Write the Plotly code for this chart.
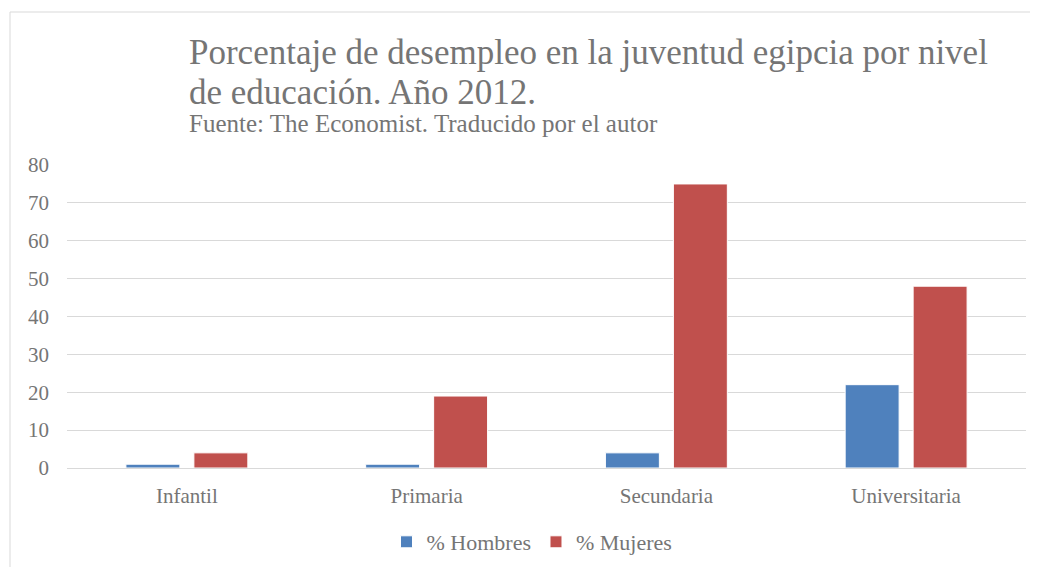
import plotly.graph_objects as go

niveles = ["Infantil", "Primaria", "Secundaria", "Universitaria"]
hombres = [1, 1, 4, 22]
mujeres = [4, 19, 75, 48]
y_ticks = [0, 10, 20, 30, 40, 50, 60, 70, 80]

FONT = "Liberation Serif"
GRAY = "#757575"

# page body adds an 8px offset, so the figure is laid out in its own coordinates
L, T, B, R = 59, 157, 99, 12
W, H = 1030, 559
PW, PH = W - L - R, H - T - B


def px(x):
    return (x - L) / PW


def py(y):
    return (T + PH - y) / PH


fig = go.Figure()
fig.add_trace(go.Bar(x=niveles, y=hombres, name="% Hombres",
                     marker=dict(color="#4f81bd", line=dict(color="#ffffff", width=1))))
fig.add_trace(go.Bar(x=niveles, y=mujeres, name="% Mujeres",
                     marker=dict(color="#c0504d", line=dict(color="#ffffff", width=1))))

fig.add_annotation(text="Porcentaje de desempleo en la juventud egipcia por nivel",
                   xref="paper", yref="paper", x=px(179), y=py(44),
                   showarrow=False, xanchor="left", yanchor="middle",
                   font=dict(family=FONT, size=35, color=GRAY))
fig.add_annotation(text="de educación. Año 2012.",
                   xref="paper", yref="paper", x=px(179), y=py(84),
                   showarrow=False, xanchor="left", yanchor="middle",
                   font=dict(family=FONT, size=35, color=GRAY))
fig.add_annotation(text="Fuente: The Economist. Traducido por el autor",
                   xref="paper", yref="paper", x=px(179), y=py(115),
                   showarrow=False, xanchor="left", yanchor="middle",
                   font=dict(family=FONT, size=25, color=GRAY))

# thin chart-area border
fig.add_shape(type="line", xref="paper", yref="paper",
              x0=px(2), x1=px(2), y0=-1, y1=py(4),
              line=dict(color="#d9d9d9", width=1))
fig.add_shape(type="line", xref="paper", yref="paper",
              x0=px(2), x1=2, y0=py(4), y1=py(4),
              line=dict(color="#d9d9d9", width=1))

fig.update_layout(
    width=W, height=H,
    margin=dict(l=L, r=R, t=T, b=B, autoexpand=False),
    paper_bgcolor="white", plot_bgcolor="white",
    barmode="group", bargap=0.433, bargroupgap=0.206,
    font=dict(family=FONT, color=GRAY, size=21),
    showlegend=True,
    legend=dict(orientation="h", xref="container", yref="container",
                x=524 / W, xanchor="center", y=1 - 534 / H, yanchor="middle",
                font=dict(family=FONT, size=22, color=GRAY), itemwidth=30),
)
fig.update_xaxes(showgrid=False, showline=True, linecolor="#d9d9d9", linewidth=1,
                 ticks="", ticklabelstandoff=9,
                 tickfont=dict(family=FONT, size=21, color=GRAY))
fig.update_yaxes(range=[0, 80], tickvals=y_ticks, showgrid=True, gridcolor="#d9d9d9",
                 gridwidth=1, zeroline=False, showline=False, ticks="",
                 tickfont=dict(family=FONT, size=21, color=GRAY), ticklabelstandoff=17)

fig.write_html("out.html")
